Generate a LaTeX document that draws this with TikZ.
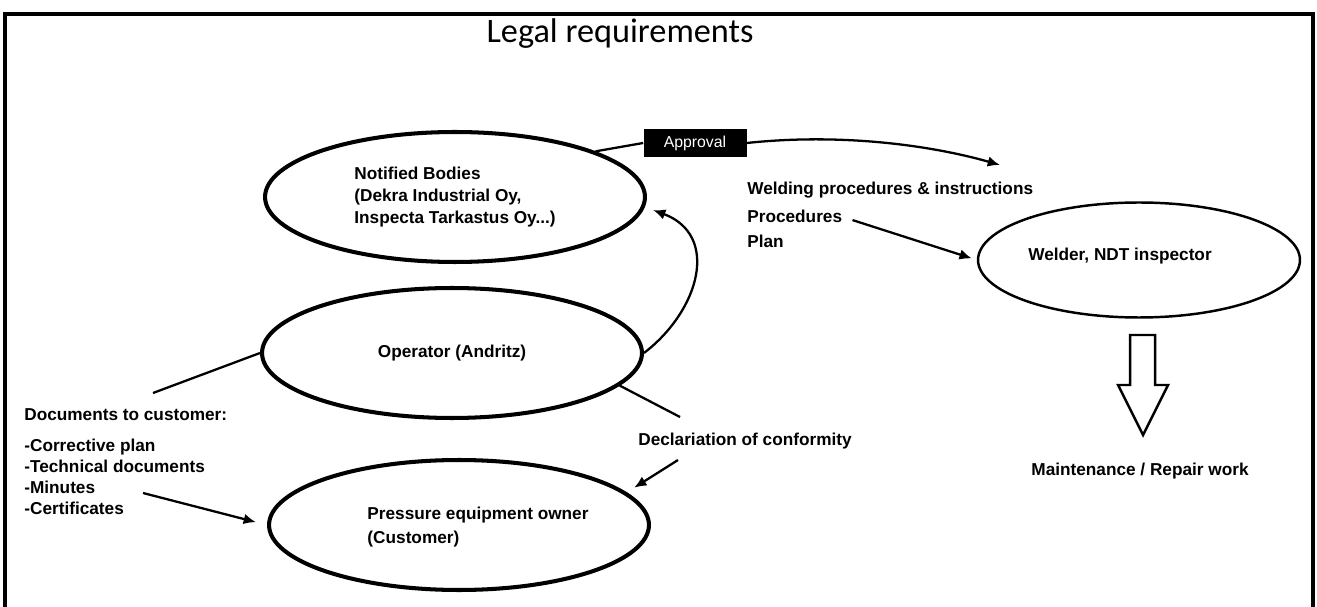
\documentclass[tikz,border=0pt]{standalone}
\usepackage{fontspec}
\setmainfont{Liberation Sans}
\newfontfamily\titlefont{Carlito}
\usetikzlibrary{shapes.geometric,arrows.meta}

\begin{document}
\begin{tikzpicture}[x=0.02cm, y=-0.02cm,
        bubble/.style={draw, ellipse, line width=2.3pt, minimum width=7.6cm, minimum height=2.6cm, align=left, font=\fontsize{9.8}{12.5}\selectfont\bfseries},
        lbl/.style={inner sep=0pt, font=\fontsize{9.8}{12}\selectfont\bfseries},
        link/.style={line width=1.3pt},
        arr/.style={line width=1.3pt, -{Latex[length=7pt,width=6pt]}}]
        \useasboundingbox (0, 0) rectangle (1317, 607);
        \draw[line width=2.8pt] (5, 620) -- (5, 14) -- (1313, 14) -- (1313, 620);
        \node (title) at (620, 34) {\titlefont\fontsize{19.5}{22}\selectfont Legal requirements};
        % the three parties
        \node[bubble] (notified) at (455, 197) {Notified Bodies\\(Dekra Industrial Oy,\\Inspecta Tarkastus Oy...)};
        \node[bubble] (operator) at (452, 353) {Operator (Andritz)};
        \node[bubble] (pressure) at (459, 525) {};
        \node[lbl, align=left] (presslbl) at (478, 527) {Pressure equipment owner\\[1.7pt](Customer)};
        \node[bubble, line width=1.4pt, minimum width=6.44cm, minimum height=2.3cm] (welder) at (1139, 260) {};
        \node[lbl] (welderlbl) at (1120, 256) {Welder, NDT inspector};
        \node[fill=black, text=white, minimum width=2.06cm, minimum height=0.56cm, font=\fontsize{9}{10}\selectfont] (approval) at (695, 143) {Approval};
        % texts
        \node[lbl, anchor=base west] (welding) at (747, 195) {Welding procedures \& instructions};
        \node[lbl, anchor=base west] (procs) at (747, 223) {Procedures};
        \node[lbl, anchor=base west] (plan) at (747, 248) {Plan};
        \node[lbl, anchor=base west] (decl) at (638, 445) {Declariation of conformity};
        \node[lbl, anchor=north west, align=left] (docs) at (24, 408) {Documents to customer:\\[0.2cm]-Corrective plan\\-Technical documents\\-Minutes\\-Certificates};
        \node[lbl, anchor=base] (maint) at (1140, 475) {Maintenance / Repair work};
        % connectors
        \coordinate (apptip) at (1000, 165);
        \coordinate (doclink) at (153, 393);
        \coordinate (decllink) at (680, 417);
        \coordinate (docfrom) at (143, 493);
        \draw[link] (notified.18) -- (approval.west);
        \draw[arr] (approval.east) .. controls (840, 133) and (930, 145) .. (apptip);
        \draw[arr, shorten >=5pt] (operator.east) .. controls (700, 310) and (720, 235) .. (notified.-3);
        \draw[arr, shorten <=6pt, shorten >=3pt] (procs.east) -- (welder.west);
        \draw[link] (operator.west) -- (doclink);
        \draw[link] (operator.-11) -- (decllink);
        \draw[arr, shorten >=5pt] ([shift={(40, 15)}]decl.base west) -- (pressure.11);
        \draw[arr, shorten >=6.5pt] (docfrom) -- (pressure.west);
        % hollow arrow down to the work
        \draw[line width=1.4pt] (1130, 335) -- ++(25, 0) -- ++(0, 50) -- ++(13, 0) -- (1143, 435) -- (1118, 385) -- ++(12, 0) -- cycle;
\end{tikzpicture}
\end{document}
